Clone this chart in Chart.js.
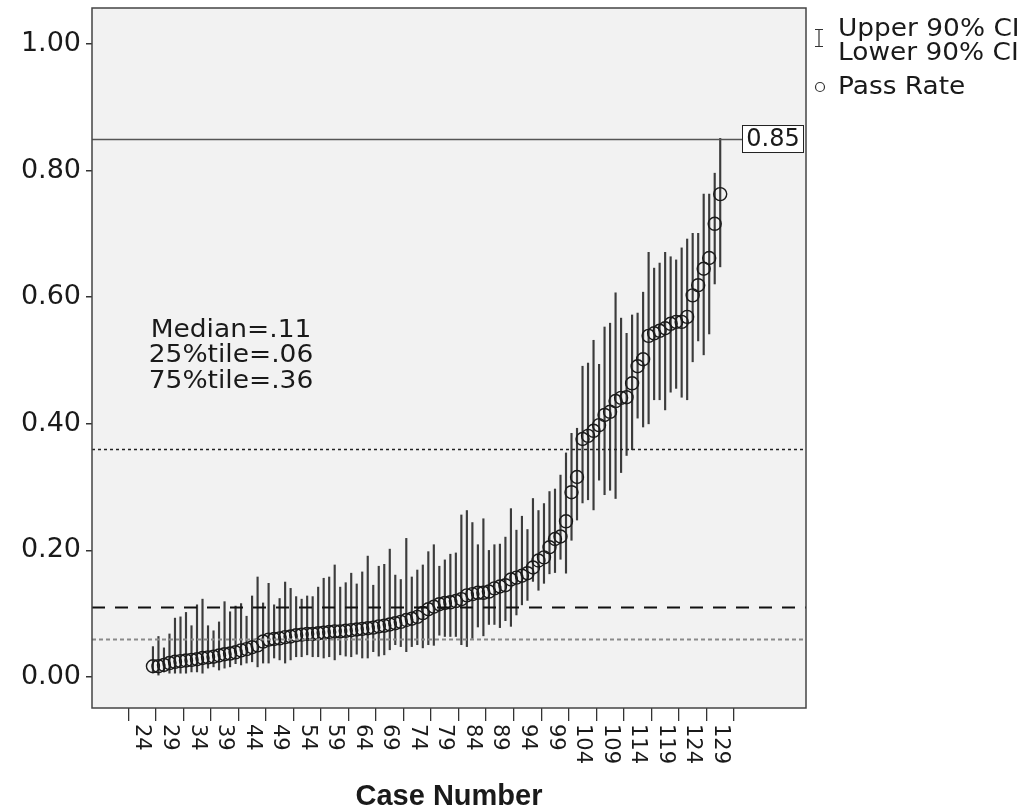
<!DOCTYPE html>
<html>
<head>
<meta charset="utf-8">
<script src="https://cdn.jsdelivr.net/npm/chart.js@4.4.0/dist/chart.umd.min.js"></script>
<style>
  html, body { margin: 0; background: #fff; }
  canvas { display: block; }
</style>
</head>
<body>
<canvas id="chart" width="1023" height="812"></canvas>
<script>
// ---- data ----
const caseNumbers = [
  26, 27, 28, 29, 30, 31, 32, 33, 34, 35, 36, 37, 38, 39, 40, 41, 42, 43, 44, 45,
  46, 47, 48, 49, 50, 51, 52, 53, 54, 55, 56, 57, 58, 59, 60, 61, 62, 63, 64, 65,
  66, 67, 68, 69, 70, 71, 72, 73, 74, 75, 76, 77, 78, 79, 80, 81, 82, 83, 84, 85,
  86, 87, 88, 89, 90, 91, 92, 93, 94, 95, 96, 97, 98, 99, 100, 101, 102, 103, 104, 105,
  106, 107, 108, 109, 110, 111, 112, 113, 114, 115, 116, 117, 118, 119, 120, 121, 122, 123, 124, 125,
  126, 127, 128, 129
];
const passRate = [
  0.017, 0.017, 0.019, 0.022, 0.024, 0.025, 0.026, 0.027, 0.028, 0.030, 0.031, 0.032, 0.034, 0.036, 0.037, 0.039, 0.042, 0.044, 0.047, 0.050,
  0.056, 0.059, 0.060, 0.061, 0.063, 0.064, 0.066, 0.067, 0.068, 0.068, 0.069, 0.070, 0.071, 0.072, 0.072, 0.073, 0.074, 0.075, 0.076, 0.077,
  0.078, 0.080, 0.081, 0.083, 0.085, 0.087, 0.090, 0.092, 0.095, 0.101, 0.107, 0.111, 0.115, 0.117, 0.118, 0.120, 0.123, 0.129, 0.131, 0.133,
  0.133, 0.135, 0.140, 0.143, 0.145, 0.154, 0.157, 0.160, 0.164, 0.173, 0.184, 0.189, 0.205, 0.218, 0.222, 0.246, 0.292, 0.316, 0.376, 0.381,
  0.389, 0.398, 0.414, 0.419, 0.436, 0.441, 0.442, 0.464, 0.491, 0.502, 0.539, 0.543, 0.547, 0.551, 0.558, 0.561, 0.561, 0.569, 0.603, 0.619,
  0.645, 0.662, 0.716, 0.763
];
const upper90 = [
  0.048, 0.064, 0.046, 0.068, 0.093, 0.095, 0.102, 0.081, 0.114, 0.123, 0.081, 0.073, 0.087, 0.119, 0.103, 0.112, 0.116, 0.096, 0.128, 0.158,
  0.117, 0.148, 0.114, 0.124, 0.150, 0.140, 0.127, 0.123, 0.128, 0.127, 0.142, 0.156, 0.158, 0.177, 0.142, 0.149, 0.164, 0.147, 0.166, 0.191,
  0.145, 0.175, 0.178, 0.202, 0.161, 0.154, 0.219, 0.158, 0.169, 0.177, 0.198, 0.209, 0.175, 0.185, 0.194, 0.196, 0.256, 0.263, 0.244, 0.209,
  0.250, 0.200, 0.209, 0.210, 0.221, 0.266, 0.232, 0.254, 0.233, 0.282, 0.263, 0.274, 0.293, 0.297, 0.319, 0.354, 0.385, 0.393, 0.491, 0.496,
  0.532, 0.494, 0.553, 0.559, 0.607, 0.567, 0.543, 0.572, 0.575, 0.608, 0.671, 0.646, 0.654, 0.671, 0.664, 0.659, 0.678, 0.692, 0.701, 0.701,
  0.763, 0.763, 0.796, 0.851
];
const lower90 = [
  0.008, 0.003, 0.008, 0.006, 0.006, 0.006, 0.006, 0.008, 0.008, 0.006, 0.014, 0.016, 0.011, 0.014, 0.016, 0.021, 0.019, 0.022, 0.024, 0.016,
  0.022, 0.022, 0.030, 0.027, 0.022, 0.027, 0.032, 0.032, 0.035, 0.032, 0.032, 0.030, 0.032, 0.027, 0.035, 0.033, 0.032, 0.036, 0.030, 0.030,
  0.040, 0.033, 0.035, 0.043, 0.051, 0.048, 0.040, 0.048, 0.051, 0.046, 0.051, 0.050, 0.066, 0.064, 0.064, 0.064, 0.051, 0.048, 0.061, 0.079,
  0.065, 0.083, 0.083, 0.078, 0.089, 0.080, 0.098, 0.114, 0.121, 0.151, 0.137, 0.148, 0.163, 0.165, 0.186, 0.164, 0.216, 0.248, 0.275, 0.280,
  0.264, 0.311, 0.288, 0.295, 0.282, 0.323, 0.350, 0.359, 0.409, 0.395, 0.400, 0.438, 0.438, 0.422, 0.450, 0.456, 0.442, 0.438, 0.498, 0.531,
  0.509, 0.542, 0.621, 0.648
];
const xTicks = [24, 29, 34, 39, 44, 49, 54, 59, 64, 69, 74, 79, 84, 89, 94, 99, 104, 109, 114, 119, 124, 129];
const yTicks = [0, 0.2, 0.4, 0.6, 0.8, 1.0];
const targetLine = 0.85;
const medianLine = 0.11;
const p25Line = 0.06;
const p75Line = 0.36;
const statLabels = ["Median=.11", "25%tile=.06", "75%tile=.36"];
const legendLabels = ["Upper 90% CI", "Lower 90% CI", "Pass Rate"];

const FONT = "'DejaVu Sans', 'Noto Sans', sans-serif";
const INK = "#1a1a1a";

// text a little wider than the font gives, like the original
function wideText(ctx, txt, x, y, sx) {
  ctx.save();
  ctx.translate(x, y);
  ctx.scale(sx, 1);
  ctx.fillText(txt, 0, 0);
  ctx.restore();
}

// ---- frame, reference lines, labels, legend ----
const decor = {
  id: "decor",
  beforeDraw(chart) {
    const { ctx, chartArea: a } = chart;
    ctx.save();
    ctx.fillStyle = "#fff";
    ctx.fillRect(0, 0, chart.width, chart.height);
    ctx.fillStyle = "#f2f2f2";
    ctx.fillRect(a.left, a.top, a.right - a.left, a.bottom - a.top);
    ctx.restore();
  },
  afterDatasetsDraw(chart) {
    const { ctx, chartArea: a, scales: { y } } = chart;
    const hline = (v, color, width, dash, x1) => {
      const py = Math.round(y.getPixelForValue(v)) + 0.5;
      ctx.save();
      ctx.strokeStyle = color;
      ctx.lineWidth = width;
      ctx.setLineDash(dash);
      ctx.beginPath();
      ctx.moveTo(a.left, py);
      ctx.lineTo(x1 ?? a.right, py);
      ctx.stroke();
      ctx.restore();
    };
    hline(p25Line, "#8a8a8a", 2, [4, 3]);
    hline(medianLine, "#111", 2, [13, 10]);
    hline(p75Line, "#222", 1.5, [3, 3]);
    hline(targetLine, "#555", 1.6, [], a.right - 64);

    // 0.85 box
    const by = y.getPixelForValue(targetLine);
    ctx.save();
    ctx.fillStyle = "#fff";
    ctx.strokeStyle = "#222";
    ctx.lineWidth = 1;
    ctx.fillRect(a.right - 64, by - 14, 62, 28);
    ctx.strokeRect(a.right - 63.5, by - 13.5, 61, 27);
    ctx.fillStyle = INK;
    ctx.font = "24px " + FONT;
    ctx.textAlign = "center";
    ctx.textBaseline = "middle";
    ctx.fillText(targetLine.toFixed(2), a.right - 33, by + 1);
    ctx.restore();
  },
  afterDraw(chart) {
    const { ctx, chartArea: a, scales: { x } } = chart;
    ctx.save();
    // plot frame
    ctx.strokeStyle = "#444";
    ctx.lineWidth = 1.5;
    ctx.strokeRect(a.left, a.top, a.right - a.left, a.bottom - a.top);

    // x tick labels, rotated clockwise
    ctx.fillStyle = INK;
    ctx.font = "21px " + FONT;
    ctx.textAlign = "left";
    ctx.textBaseline = "middle";
    xTicks.forEach(v => {
      const px = x.getPixelForValue(v);
      ctx.save();
      ctx.translate(px, a.bottom + 16);
      ctx.rotate(Math.PI / 2);
      ctx.fillText(String(v), 0, 0);
      ctx.restore();
    });

    // x title
    ctx.font = "bold 29px 'Liberation Sans', Arial, sans-serif";
    ctx.textAlign = "center";
    ctx.fillText("Case Number", (a.left + a.right) / 2, 797);

    // stats text
    ctx.font = "25px " + FONT;
    statLabels.forEach((t, i) => wideText(ctx, t, 231, 330 + i * 25.5, 1.06));

    // legend
    const lx = a.right + 13;
    ctx.strokeStyle = "#333";
    ctx.lineWidth = 1.2;
    ctx.beginPath();
    ctx.moveTo(lx, 29); ctx.lineTo(lx, 47);
    ctx.moveTo(lx - 4, 29.5); ctx.lineTo(lx + 4, 29.5);
    ctx.moveTo(lx - 4, 46.5); ctx.lineTo(lx + 4, 46.5);
    ctx.stroke();
    ctx.beginPath();
    ctx.arc(lx + 1, 87, 4.5, 0, Math.PI * 2);
    ctx.stroke();
    ctx.font = "24px " + FONT;
    ctx.textAlign = "left";
    wideText(ctx, legendLabels[0], lx + 19, 30, 1.1);
    wideText(ctx, legendLabels[1], lx + 19, 54, 1.1);
    wideText(ctx, legendLabels[2], lx + 19, 88, 1.1);
    ctx.restore();
  }
};

new Chart(document.getElementById("chart"), {
  type: "bar",
  data: {
    datasets: [
      {
        type: "scatter",
        label: "Pass Rate",
        data: caseNumbers.map((c, i) => ({ x: c, y: passRate[i] })),
        pointStyle: "circle",
        pointRadius: 6.5,
        borderWidth: 1.4,
        borderColor: "#1a1a1a",
        backgroundColor: "rgba(0,0,0,0)",
        order: 0
      },
      {
        type: "bar",
        label: "90% CI",
        data: caseNumbers.map((c, i) => ({ x: c, y: [lower90[i], upper90[i]] })),
        backgroundColor: "#3c3c3c",
        borderWidth: 0,
        barThickness: 1.5,
        order: 1
      }
    ]
  },
  options: {
    responsive: false,
    animation: false,
    layout: { padding: { left: 0, top: 8, right: 217, bottom: 0 } },
    plugins: { legend: { display: false }, tooltip: { enabled: false } },
    scales: {
      x: {
        type: "linear",
        min: 17.88,
        max: 141.63,
        afterBuildTicks: s => { s.ticks = xTicks.map(v => ({ value: v })); },
        afterFit: s => { s.height = 104; s.paddingLeft = 0; s.paddingRight = 0; },
        grid: { display: true, drawOnChartArea: false, drawTicks: true, tickLength: 13, color: "#333", lineWidth: 1.3 },
        border: { display: false },
        ticks: { display: false }
      },
      y: {
        type: "linear",
        min: -0.049,
        max: 1.057,
        afterBuildTicks: s => { s.ticks = yTicks.map(v => ({ value: v })); },
        afterFit: s => { s.width = 92; s.paddingTop = 0; s.paddingBottom = 0; },
        grid: { display: true, drawOnChartArea: false, drawTicks: true, tickLength: 6, color: "#333", lineWidth: 1.5 },
        border: { display: false },
        ticks: {
          color: INK,
          padding: 5,
          font: { family: FONT, size: 27 },
          callback: v => Number(v).toFixed(2)
        }
      }
    }
  },
  plugins: [decor]
});
</script>
</body>
</html>
